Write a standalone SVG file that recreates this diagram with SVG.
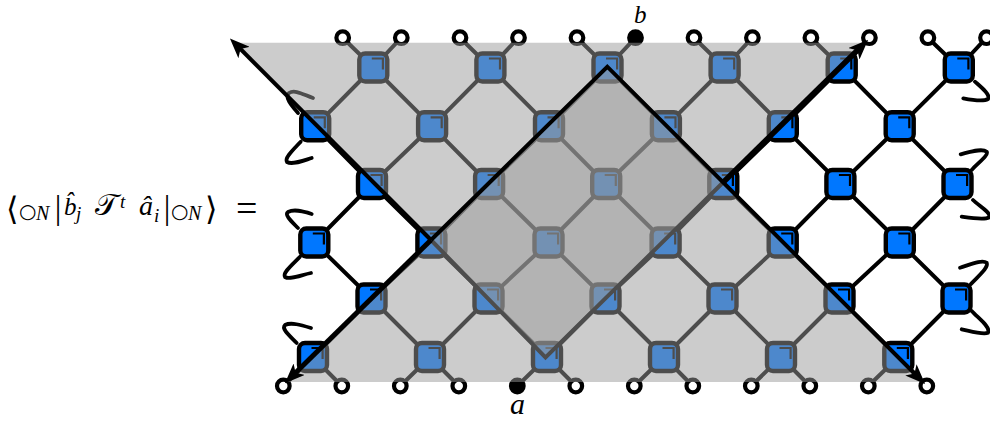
<svg xmlns="http://www.w3.org/2000/svg" width="990" height="421" viewBox="0 0 990 421">
<style>
.e{fill:none;stroke:#000;stroke-width:4;stroke-linejoin:round}
.q{fill:none;stroke:#000;stroke-width:3.8;stroke-linecap:round}
.s{fill:#0077ff;stroke:#000;stroke-width:4.4}
.m{fill:none;stroke:#000;stroke-width:2.2}
.o{fill:#fff;stroke:#000;stroke-width:4.2}
.f{fill:#000;stroke:#000;stroke-width:4.2}
.sh{fill:#999;fill-opacity:.5;stroke:none}
.a{fill:none;stroke:#000;stroke-width:4;stroke-linejoin:miter}
.t{font-family:"Liberation Serif","DejaVu Serif",serif;font-size:28px;fill:#000}
.i{font-style:italic}
.b{font-size:20px}
.u{font-family:"DejaVu Sans","Liberation Serif",sans-serif;font-size:32px;fill:#000}
.c{font-size:20px}
</style>
<defs>
<g id="sq"><rect class="s" x="-14" y="-14" width="28" height="28" rx="6"/><path class="m" d="M-1.5,-9H9.6V2"/></g>
<marker id="h" markerUnits="userSpaceOnUse" viewBox="0 0 20 16" refX="10" refY="8" markerWidth="20" markerHeight="16" orient="auto"><path d="M20,8L0,0L5,8L0,16Z" fill="#000"/></marker>
</defs>
<rect width="990" height="421" fill="#fff"/>
<g id="connectors">
<path class="e" d="M315.2,126.3L373.3,67.5L432.1,126.3L490.4,67.5L549,126.3L607.5,67.5L665.9,126.3L724.6,67.5L782.8,126.3L841.7,67.5L899.7,126.3L958.8,67.5"/>
<path class="e" d="M315.2,126.3L372,184L432.1,126.3L489.1,184L549,126.3L606.2,184L665.9,126.3L723.3,184L782.8,126.3L840.4,184L899.7,126.3L957.5,184"/>
<path class="e" d="M314.3,242.5L372,184L431.4,242.5L489.1,184L548.5,242.5L606.2,184L665.6,242.5L723.3,184L782.7,242.5L840.4,184L899.8,242.5L957.5,184"/>
<path class="e" d="M314.3,242.5L371.5,298.5L431.4,242.5L488.5,298.5L548.5,242.5L605.5,298.5L665.6,242.5L722.5,298.5L782.7,242.5L839.5,298.5L899.8,242.5L956.5,298.5"/>
<path class="e" d="M313,357L371.5,298.5L430,357L488.5,298.5L547,357L605.5,298.5L664,357L722.5,298.5L781,357L839.5,298.5L898.3,357L956.5,298.5"/>
<path class="e" d="M342.7,37.7L373.3,67.5L401.3,37.7M460,37.7L490.4,67.5L518.5,37.7M577,37.7L607.5,67.5L635.5,37.7M694,37.7L724.6,67.5L752.4,37.7M810.9,37.7L841.7,67.5L869.4,37.7M927.9,37.7L958.8,67.5L986.5,37.7"/>
<path class="e" d="M283.3,386L313,357L341.8,386M400.3,386L430,357L458.8,386M517.3,386L547,357L575.8,386M634.3,386L664,357L692.8,386M751.3,386L781,357L809.8,386M868.3,386L898.3,357L926.8,386"/>
<path class="q" d="M298,113C292,106 284,97 289,93C295,89 304,95 313,98"/>
<path class="q" d="M300.7,141.7C294,149 284,158 287,162C292,165 302,161 311.7,158"/>
<path class="q" d="M298,228C292,222 284,215 288,212C294,209 302,211 311.7,214"/>
<path class="q" d="M300,256.7C293,264 282,273 285,277C290,280 301,275 311,273"/>
<path class="q" d="M296.7,343C290,336 281,329 285,325C291,322 301,325 311,328"/>
<path class="q" d="M975,81.7C981,87 991,95 988,99C983,102 972,100 963.3,98.3"/>
<path class="q" d="M971.7,170C978,163 989,155 986.7,151.7C982,148 970,152 960.7,154.3"/>
<path class="q" d="M973,200C979,206 992,213 989,217.5C984,220 971,218 961.7,216.7"/>
<path class="q" d="M970.7,284.3C977,277 989,268 986.7,262.7C982,259 969,265 960,267.7"/>
<path class="q" d="M971.7,311C978,318 991,327 988,332.7C983,335 970,331 961.7,329.3"/>
</g>
<g id="nodes">
<g id="n1a" transform="translate(373.3,67.5)"><use href="#sq"/></g>
<g id="n1b" transform="translate(490.4,67.5)"><use href="#sq"/></g>
<g id="n1c" transform="translate(607.5,67.5)"><use href="#sq"/></g>
<g id="n1d" transform="translate(724.6,67.5)"><use href="#sq"/></g>
<g id="n1e" transform="translate(841.7,67.5)"><use href="#sq"/></g>
<g id="n1f" transform="translate(958.8,67.5)"><use href="#sq"/></g>
<g id="n2a" transform="translate(315.2,126.3)"><use href="#sq"/></g>
<g id="n2b" transform="translate(432.1,126.3)"><use href="#sq"/></g>
<g id="n2c" transform="translate(549,126.3)"><use href="#sq"/></g>
<g id="n2d" transform="translate(665.9,126.3)"><use href="#sq"/></g>
<g id="n2e" transform="translate(782.8,126.3)"><use href="#sq"/></g>
<g id="n2f" transform="translate(899.7,126.3)"><use href="#sq"/></g>
<g id="n3a" transform="translate(372,184)"><use href="#sq"/></g>
<g id="n3b" transform="translate(489.1,184)"><use href="#sq"/></g>
<g id="n3c" transform="translate(606.2,184)"><use href="#sq"/></g>
<g id="n3d" transform="translate(723.3,184)"><use href="#sq"/></g>
<g id="n3e" transform="translate(840.4,184)"><use href="#sq"/></g>
<g id="n3f" transform="translate(957.5,184)"><use href="#sq"/></g>
<g id="n4a" transform="translate(314.3,242.5)"><use href="#sq"/></g>
<g id="n4b" transform="translate(431.4,242.5)"><use href="#sq"/></g>
<g id="n4c" transform="translate(548.5,242.5)"><use href="#sq"/></g>
<g id="n4d" transform="translate(665.6,242.5)"><use href="#sq"/></g>
<g id="n4e" transform="translate(782.7,242.5)"><use href="#sq"/></g>
<g id="n4f" transform="translate(899.8,242.5)"><use href="#sq"/></g>
<g id="n5a" transform="translate(371.5,298.5)"><use href="#sq"/></g>
<g id="n5b" transform="translate(488.5,298.5)"><use href="#sq"/></g>
<g id="n5c" transform="translate(605.5,298.5)"><use href="#sq"/></g>
<g id="n5d" transform="translate(722.5,298.5)"><use href="#sq"/></g>
<g id="n5e" transform="translate(839.5,298.5)"><use href="#sq"/></g>
<g id="n5f" transform="translate(956.5,298.5)"><use href="#sq"/></g>
<g id="n6a" transform="translate(313,357)"><use href="#sq"/></g>
<g id="n6b" transform="translate(430,357)"><use href="#sq"/></g>
<g id="n6c" transform="translate(547,357)"><use href="#sq"/></g>
<g id="n6d" transform="translate(664,357)"><use href="#sq"/></g>
<g id="n6e" transform="translate(781,357)"><use href="#sq"/></g>
<g id="n6f" transform="translate(898.3,357)"><use href="#sq"/></g>
</g>
<g id="ports">
<circle class="o" cx="342.7" cy="37.7" r="6.3"/><circle class="o" cx="401.3" cy="37.7" r="6.3"/><circle class="o" cx="460" cy="37.7" r="6.3"/><circle class="o" cx="518.5" cy="37.7" r="6.3"/><circle class="o" cx="577" cy="37.7" r="6.3"/><circle class="f" cx="635.5" cy="37.7" r="6.3"/><circle class="o" cx="694" cy="37.7" r="6.3"/><circle class="o" cx="752.4" cy="37.7" r="6.3"/><circle class="o" cx="810.9" cy="37.7" r="6.3"/><circle class="o" cx="869.4" cy="37.7" r="6.3"/><circle class="o" cx="927.9" cy="37.7" r="6.3"/><circle class="o" cx="986.5" cy="37.7" r="6.3"/>
<circle class="o" cx="283.3" cy="386" r="6.3"/><circle class="o" cx="341.8" cy="386" r="6.3"/><circle class="o" cx="400.3" cy="386" r="6.3"/><circle class="o" cx="458.8" cy="386" r="6.3"/><circle class="f" cx="517.3" cy="386" r="6.3"/><circle class="o" cx="575.8" cy="386" r="6.3"/><circle class="o" cx="634.3" cy="386" r="6.3"/><circle class="o" cx="692.8" cy="386" r="6.3"/><circle class="o" cx="751.3" cy="386" r="6.3"/><circle class="o" cx="809.8" cy="386" r="6.3"/><circle class="o" cx="868.3" cy="386" r="6.3"/><circle class="o" cx="926.8" cy="386" r="6.3"/>
</g>
<path class="sh" d="M607.3,66.7L722.5,183L545.5,357.5L431,240Z"/>
<path class="a" d="M431,240L545.5,357.5L722.5,183"/>
<path class="sh" d="M234,42.7H865L722.5,183L923,382H286L431,240Z"/>
<g id="arrows">
<path class="a" marker-end="url(#h)" d="M431,240L237,45.5"/>
<path class="a" style="stroke-width:5.5" marker-end="url(#h)" d="M722.5,183L861,46.8"/>
<path class="a" style="stroke-width:5" marker-end="url(#h)" d="M431,240L292,376.2"/>
<path class="a" marker-end="url(#h)" d="M431,240L607.3,66.7L918,377"/>
</g>
<g id="labels">
<text class="t i" x="634" y="22.5" style="font-size:25px">b</text>
<text class="t i" x="510" y="414" style="font-size:30px">a</text>
<text class="u" x="6" y="220">⟨</text>
<text class="u c" x="19" y="217.5">○</text>
<text class="t i b" x="36" y="220">N</text>
<text class="t" x="54.7" y="219" style="font-size:33px">|</text>
<text class="t i" x="64" y="215" style="font-size:25px">b̂</text>
<text class="t i" x="76" y="220" style="font-size:19px">j</text>
<text class="t" x="95" y="215" style="font-size:30px">𝒯</text>
<text class="t i" x="120" y="208" style="font-size:19px">t</text>
<text class="t i" x="139" y="215">â</text>
<text class="t i" x="154" y="222" style="font-size:19px">i</text>
<text class="t" x="163.7" y="219" style="font-size:33px">|</text>
<text class="u c" x="171" y="217.5">○</text>
<text class="t i b" x="188" y="220">N</text>
<text class="u" x="205" y="220">⟩</text>
<text class="t" x="236" y="221" style="font-size:38px">=</text>
</g>
</svg>
